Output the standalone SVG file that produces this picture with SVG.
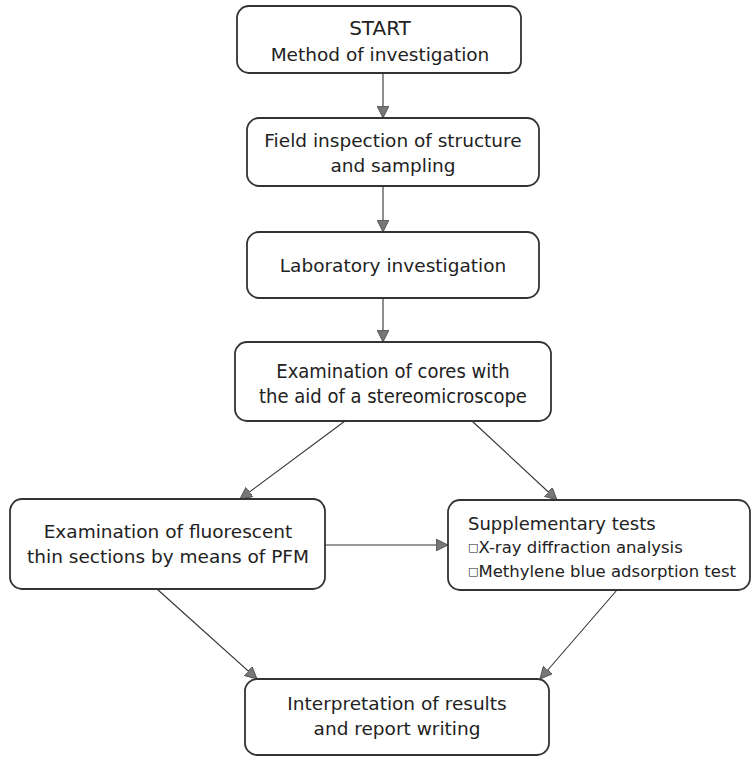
<svg xmlns="http://www.w3.org/2000/svg" width="752" height="757" viewBox="0 0 752 757">
<style>
.box{fill:#fff;stroke:#333;stroke-width:1.8}
.t{font-family:"DejaVu Sans",Verdana,sans-serif;font-size:18.5px;fill:#222;text-anchor:middle}
.tl{font-family:"DejaVu Sans",Verdana,sans-serif;font-size:18px;fill:#222}
.tc{font-family:"DejaVu Sans Condensed","DejaVu Sans",sans-serif;font-size:20px;fill:#222;text-anchor:middle}
.b{font-size:11px}
.c{stroke:#333;stroke-width:1.1;fill:none;marker-end:url(#ah)}
</style>
<defs>
<marker id="ah" viewBox="0 0 12 12" refX="12" refY="6" markerWidth="12" markerHeight="12" markerUnits="userSpaceOnUse" orient="auto">
<path d="M0,0 L12,6 L0,12 Z" fill="#777" stroke="#444" stroke-width="0.8"/>
</marker>
</defs>
<g id="connectors">
<line class="c" x1="383" y1="73" x2="383" y2="118"/>
<line class="c" x1="383" y1="186" x2="383" y2="232"/>
<line class="c" x1="383" y1="298" x2="383" y2="342"/>
<line class="c" x1="345" y1="421" x2="240" y2="499"/>
<line class="c" x1="472" y1="421" x2="557" y2="500"/>
<line class="c" x1="325" y1="545" x2="448" y2="545"/>
<line class="c" x1="157" y1="589" x2="257" y2="679"/>
<line class="c" x1="617" y1="590" x2="540" y2="679"/>
</g>
<g id="n1">
<rect class="box" x="237" y="6" width="284" height="67" rx="12"/>
<text class="t" x="380" y="35" style="font-size:20px">START</text>
<text class="t" x="380" y="61">Method of investigation</text>
</g>
<g id="n2">
<rect class="box" x="247" y="118" width="292" height="68" rx="12"/>
<text class="t" x="393" y="147">Field inspection of structure</text>
<text class="t" x="393" y="172">and sampling</text>
</g>
<g id="n3">
<rect class="box" x="247" y="232" width="292" height="66" rx="12"/>
<text class="t" x="393" y="272">Laboratory investigation</text>
</g>
<g id="n4">
<rect class="box" x="235" y="342" width="316" height="79" rx="12"/>
<text class="tc" x="393" y="378">Examination of cores with</text>
<text class="tc" x="393" y="403">the aid of a stereomicroscope</text>
</g>
<g id="n5">
<rect class="box" x="10" y="499" width="315" height="90" rx="12"/>
<text class="t" x="168" y="538">Examination of fluorescent</text>
<text class="t" x="168" y="563">thin sections by means of PFM</text>
</g>
<g id="n6">
<rect class="box" x="448" y="500" width="302" height="90" rx="12"/>
<text class="tl" x="468" y="530">Supplementary tests</text>
<text class="tl" x="468" y="553" style="font-size:16.5px"><tspan class="b" dy="-2">□</tspan><tspan dy="2">X-ray diffraction analysis</tspan></text>
<text class="tl" x="468" y="577" style="font-size:16.5px"><tspan class="b" dy="-2">□</tspan><tspan dy="2">Methylene blue adsorption test</tspan></text>
</g>
<g id="n7">
<rect class="box" x="245" y="679" width="304" height="76" rx="12"/>
<text class="t" x="397" y="710">Interpretation of results</text>
<text class="t" x="397" y="735">and report writing</text>
</g>
</svg>
